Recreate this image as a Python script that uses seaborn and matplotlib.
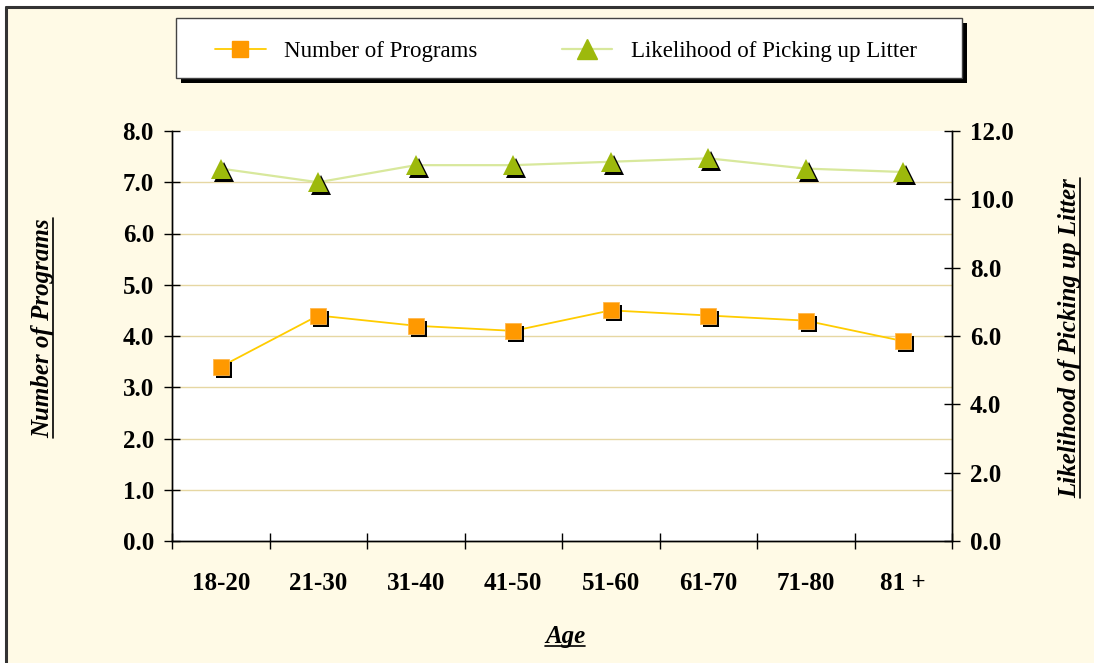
import numpy as np
import pandas as pd
import matplotlib
matplotlib.use("Agg")
import matplotlib.pyplot as plt
import seaborn as sns
from matplotlib.transforms import offset_copy
from matplotlib.lines import Line2D
from matplotlib.patches import Rectangle

# Data
age_groups = ["18-20", "21-30", "31-40", "41-50", "51-60", "61-70", "71-80", "81 +"]
num_programs = [3.4, 4.4, 4.2, 4.1, 4.5, 4.4, 4.3, 3.9]
litter_likelihood = [10.9, 10.5, 11.0, 11.0, 11.1, 11.2, 10.9, 10.8]
left_ticks = [0, 1, 2, 3, 4, 5, 6, 7, 8]
right_ticks = [0, 2, 4, 6, 8, 10, 12]

df = pd.DataFrame({"Age": age_groups,
                   "Programs": num_programs,
                   "Litter": litter_likelihood})

# Styling
BG = "#FFFAE6"
GRID = "#E6D7A3"
ORANGE = "#FF9900"
ORANGE_LINE = "#FFCC00"
GREEN = "#9DB90C"
GREEN_LINE = "#D8E89C"
W, H = 1094, 663


def fx(px):
    return px / W


def fy(py):
    return 1 - py / H


sns.set_theme(style="white")
plt.rcParams["font.family"] = ["Liberation Serif", "DejaVu Serif"]
plt.rcParams["text.color"] = "black"
plt.rcParams["xtick.color"] = "black"
plt.rcParams["ytick.color"] = "black"

fig = plt.figure(figsize=(W / 100, H / 100), dpi=100, facecolor="white")

# Chart-area background with a dark border along the top and left
fig.patches.append(Rectangle((fx(6), 0), 1, fy(7), transform=fig.transFigure,
                             facecolor=BG, edgecolor="none", zorder=-10))
fig.add_artist(Line2D([fx(6), fx(6)], [0, fy(7)], transform=fig.transFigure,
                      color="#333333", lw=2.2))
fig.add_artist(Line2D([fx(6), 1], [fy(7), fy(7)], transform=fig.transFigure,
                      color="#333333", lw=2.2))

ax = fig.add_axes([fx(172), fy(541), 780 / W, 410 / H])
ax.set_facecolor("white")
ax2 = ax.twinx()

shadow = dict(x=3, y=-3, units="dots")

# Number of programs (left axis)
sns.lineplot(data=df, x="Age", y="Programs", ax=ax, color=ORANGE_LINE, lw=1.3,
             sort=False, zorder=3)
sns.lineplot(data=df, x="Age", y="Programs", ax=ax, color="black", lw=0,
             marker="s", markersize=11.5, markeredgewidth=0, sort=False, zorder=4,
             transform=offset_copy(ax.transData, fig=fig, **shadow))
sns.lineplot(data=df, x="Age", y="Programs", ax=ax, color=ORANGE, lw=0,
             marker="s", markersize=11.5, markeredgecolor="#FFB84D", markeredgewidth=0.6,
             sort=False, zorder=5)

# Likelihood of picking up litter (right axis)
sns.lineplot(data=df, x="Age", y="Litter", ax=ax2, color=GREEN_LINE, lw=1.6,
             sort=False, zorder=3)
sns.lineplot(data=df, x="Age", y="Litter", ax=ax2, color="black", lw=0,
             marker="^", markersize=14, markeredgewidth=0, sort=False, zorder=4,
             transform=offset_copy(ax2.transData, fig=fig, **shadow))
sns.lineplot(data=df, x="Age", y="Litter", ax=ax2, color=GREEN, lw=0,
             marker="^", markersize=14, markeredgewidth=0, sort=False, zorder=5)

# Axes limits and ticks
n = len(age_groups)
ax.set_xlim(-0.5, n - 0.5)
ax.set_xticks(range(n))
ax.set_xticklabels(age_groups)
ax.set_xticks(np.arange(-0.5, n, 1.0), minor=True)
ax.set_ylim(left_ticks[0], left_ticks[-1])
ax.set_yticks(left_ticks)
ax.set_yticklabels([f"{v:.1f}" for v in left_ticks])
ax2.set_ylim(right_ticks[0], right_ticks[-1])
ax2.set_yticks(right_ticks)
ax2.set_yticklabels([f"{v:.1f}" for v in right_ticks])

tick_font = dict(labelsize=18, labelcolor="black")
ax.tick_params(axis="x", which="major", length=0, pad=22, **tick_font)
ax.tick_params(axis="x", which="minor", direction="inout", length=12, width=1,
               color="black", bottom=True)
ax.tick_params(axis="y", which="major", direction="inout", length=12, width=1,
               color="black", left=True, pad=7, **tick_font)
ax2.tick_params(axis="y", which="major", direction="inout", length=12, width=1,
                color="black", right=True, pad=7, **tick_font)
for lbl in ax.get_xticklabels() + ax.get_yticklabels() + ax2.get_yticklabels():
    lbl.set_fontweight("bold")

ax.yaxis.grid(True, color=GRID, lw=1)
ax.xaxis.grid(False)
ax2.grid(False)
gl = ax.yaxis.get_gridlines()
gl[0].set_visible(False)
gl[-1].set_visible(False)
ax.set_axisbelow(True)

for a in (ax, ax2):
    a.spines["top"].set_visible(False)
    for s in ("left", "right", "bottom"):
        a.spines[s].set_color("black")
        a.spines[s].set_linewidth(1.0)
ax.set_xlabel("")
ax.set_ylabel("")
ax2.set_ylabel("")

# Axis titles (bold italic, underlined)
title_kw = dict(fontsize=18, fontweight="bold", fontstyle="italic",
                ha="center", va="center", color="black")
t_left = fig.text(fx(43), fy(328), "Number of Programs", rotation=90, **title_kw)
t_right = fig.text(fx(1070), fy(338), "Likelihood of Picking up Litter",
                   rotation=90, **title_kw)
t_age = fig.text(fx(565), fy(636), "Age", **title_kw)

# Legend box with a solid drop shadow
box_x0, box_y0, box_x1, box_y1 = 176, 18, 962, 78
fig.patches.append(Rectangle((fx(box_x0 + 5), fy(box_y1 + 5)), (box_x1 - box_x0) / W,
                             (box_y1 - box_y0) / H, transform=fig.transFigure,
                             facecolor="black", edgecolor="none", zorder=1))
fig.patches.append(Rectangle((fx(box_x0), fy(box_y1)), (box_x1 - box_x0) / W,
                             (box_y1 - box_y0) / H, transform=fig.transFigure,
                             facecolor="white", edgecolor="#444444", lw=1.0, zorder=2))

handles = [
    Line2D([], [], color=ORANGE_LINE, lw=1.3, marker="s", markersize=11.5,
           markerfacecolor=ORANGE, markeredgecolor=ORANGE),
    Line2D([], [], color=GREEN_LINE, lw=1.6, marker="^", markersize=14,
           markerfacecolor=GREEN, markeredgecolor=GREEN),
]
leg = fig.legend(handles, ["Number of Programs", "Likelihood of Picking up Litter"],
                 loc="center", ncol=2,
                 bbox_to_anchor=(fx((box_x0 + box_x1) / 2 - 3), fy((box_y0 + box_y1) / 2 + 3)),
                 fontsize=16.5, handlelength=2.2, handletextpad=0.8,
                 columnspacing=3.7, borderpad=0, borderaxespad=0, frameon=False,
                 labelcolor="black")
leg.set_zorder(3)

# Underlines beneath the axis titles
fig.canvas.draw()
renderer = fig.canvas.get_renderer()
inv = fig.transFigure.inverted()


def underline(txt, vertical):
    bb = txt.get_window_extent(renderer)
    if vertical:
        x = bb.x1 - 2
        p0 = inv.transform((x, bb.y0))
        p1 = inv.transform((x, bb.y1))
    else:
        y = bb.y0 + 2
        p0 = inv.transform((bb.x0, y))
        p1 = inv.transform((bb.x1, y))
    fig.add_artist(Line2D([p0[0], p1[0]], [p0[1], p1[1]], transform=fig.transFigure,
                          color="black", lw=1.2))


underline(t_left, True)
underline(t_right, True)
underline(t_age, False)

fig.savefig("out.png", dpi=100, facecolor=fig.get_facecolor())
